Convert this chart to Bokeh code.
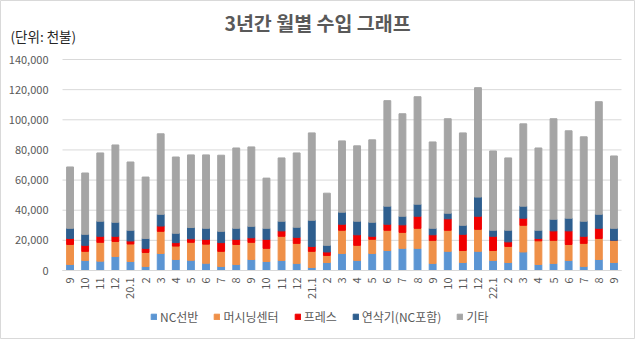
import math
from bokeh.plotting import figure
from bokeh.models import (ColumnDataSource, Range1d, FixedTicker, NumeralTickFormatter,
                          Label, Legend, LegendItem)
from bokeh.embed import file_html
from bokeh.resources import INLINE

# ---- data (천불) ----
months = ["9", "10", "11", "12", "20.1", "2", "3", "4", "5", "6", "7", "8", "9", "10", "11", "12",
          "21.1", "2", "3", "4", "5", "6", "7", "8", "9", "10", "11", "12",
          "22.1", "2", "3", "4", "5", "6", "7", "8", "9"]
nc_lathe = [4000, 6700, 6200, 9300, 6000, 2700, 11300, 7300, 6800, 4800, 2700, 4000, 7300, 6000, 6700,
            4700, 2000, 5300, 11300, 6700, 11300, 13300, 14700, 14700, 4700, 12700, 5300, 12700, 6700,
            5300, 12300, 4000, 4700, 6700, 2700, 7300, 5300]
machining = [13300, 6000, 12500, 10000, 11600, 9300, 14700, 8900, 11900, 12700, 10000, 13300, 11400, 8700,
             16000, 13300, 10700, 4700, 15400, 10000, 9400, 13400, 10600, 13300, 15300, 14000, 8000, 14600,
             6600, 10700, 17700, 15700, 15300, 10600, 15300, 14000, 14700]
press = [4000, 4000, 4000, 3400, 2000, 2700, 3500, 2300, 2300, 3200, 5800, 3400, 3000, 6000, 3600, 4000,
         3300, 2300, 4000, 7000, 2000, 4000, 5000, 8000, 3700, 7600, 10700, 8700, 9400, 3000, 4700, 1600,
         6300, 9000, 4700, 6700, 0]
grinder = [6700, 7300, 10000, 9300, 7100, 6600, 7800, 6200, 7500, 7300, 7500, 7300, 7600, 7300, 6400, 6700,
           17300, 4400, 8000, 9000, 9300, 12000, 5700, 8000, 4300, 3700, 6000, 12700, 4000, 7700, 8000, 5400,
           7700, 8400, 10000, 9300, 8000]
others = [40700, 40700, 45300, 51300, 45300, 40700, 53400, 50600, 48200, 48700, 50500, 53300, 52700, 33300,
          42000, 49300, 58000, 34600, 47300, 50000, 54700, 70000, 68000, 71300, 57300, 62700, 61300, 72600,
          52600, 48000, 54600, 54600, 66700, 58000, 56000, 74700, 48000]
series_names = ["NC선반", "머시닝센터", "프레스", "연삭기(NC포함)", "기타"]
y_ticks = [0, 20000, 40000, 60000, 80000, 100000, 120000, 140000]
title_text = "3년간 월별 수입 그래프"
unit_text = "(단위: 천불)"

keys = ["nc", "mc", "press", "grind", "other"]
colors = ["#5B95D3", "#EF9048", "#F00000", "#2E5E8E", "#A5A5A5"]
FONT = "Noto Sans CJK KR"

W, H = 635, 339
# plotting area inside the canvas (pixels)
PL, PR, PT, PB = 62, 621, 59, 270
n = len(months)
y_max = y_ticks[-1]
ux = (PR - PL) / n                 # px per category
uy = (PB - PT) / y_max             # px per unit value
x0 = -0.5 - PL / ux
x1 = n - 0.5 + (W - PR) / ux
yt = y_max + PT / uy
yb = -(H - PB) / uy

xs = list(range(n))
src = ColumnDataSource(dict(x=xs, nc=nc_lathe, mc=machining, press=press, grind=grinder, other=others))

p = figure(width=W, height=H, output_backend="svg", toolbar_location=None, title=None,
           x_range=Range1d(x0, x1), y_range=Range1d(yb, yt),
           min_border_left=0, min_border_right=0, min_border_top=0, min_border_bottom=0)
p.outline_line_color = "#D9D9D9"
p.background_fill_color = "white"
p.border_fill_color = "white"

# horizontal grid lines only across the plotting area
p.xgrid.visible = False
p.ygrid.visible = False
p.segment(x0=[-0.5] * len(y_ticks), x1=[n - 0.5] * len(y_ticks), y0=y_ticks, y1=y_ticks,
          line_color="#D9D9D9", line_width=1)

renderers = p.vbar_stack(keys, x="x", width=1 / 2.2, color=colors, source=src)

# axes fixed at the plotting area's edges
xa = p.xaxis[0]
xa.fixed_location = 0
xa.bounds = (-0.5, n - 0.5)
xa.ticker = FixedTicker(ticks=xs)
xa.major_label_overrides = {i: m for i, m in zip(xs, months)}
xa.major_label_orientation = math.pi / 2
xa.major_tick_line_color = None
xa.minor_tick_line_color = None
xa.major_tick_out = 0
xa.major_tick_in = 0
xa.axis_line_color = "#D9D9D9"
xa.major_label_standoff = 7
xa.major_label_text_font = FONT
xa.major_label_text_font_size = "11px"
xa.major_label_text_color = "#595959"

ya = p.yaxis[0]
ya.fixed_location = -0.5
ya.bounds = (0, y_max)
ya.ticker = FixedTicker(ticks=y_ticks)
ya.formatter = NumeralTickFormatter(format="0,0")
ya.axis_line_color = None
ya.major_tick_line_color = None
ya.minor_tick_line_color = None
ya.major_tick_out = 0
ya.major_tick_in = 0
ya.major_label_standoff = 14
ya.major_label_text_font = FONT
ya.major_label_text_font_size = "11px"
ya.major_label_text_color = "#595959"

# title and unit label
p.add_layout(Label(x=x0 + 317 / ux, y=yt - 22 / uy, text=title_text, text_align="center",
                   text_baseline="middle", text_font=FONT, text_font_size="19.5px",
                   text_font_style="bold", text_color="#595959"))
p.add_layout(Label(x=x0 + 10 / ux, y=yt - 35 / uy, text=unit_text, text_align="left",
                   text_baseline="middle", text_font=FONT, text_font_size="13.5px",
                   text_color="#262626"))

# legend at the bottom
legend = Legend(items=[LegendItem(label=nm, renderers=[r]) for nm, r in zip(series_names, renderers)],
                location=(150, 14), orientation="horizontal")
legend.label_text_font = FONT
legend.label_text_font_size = "12px"
legend.label_text_color = "#595959"
legend.glyph_width = 7
legend.glyph_height = 7
legend.label_standoff = 3
legend.spacing = 15
legend.padding = 0
legend.margin = 0
legend.label_height = 14
legend.border_line_color = None
legend.background_fill_alpha = 0
p.add_layout(legend)

open("out.html", "w").write(file_html(p, INLINE))
